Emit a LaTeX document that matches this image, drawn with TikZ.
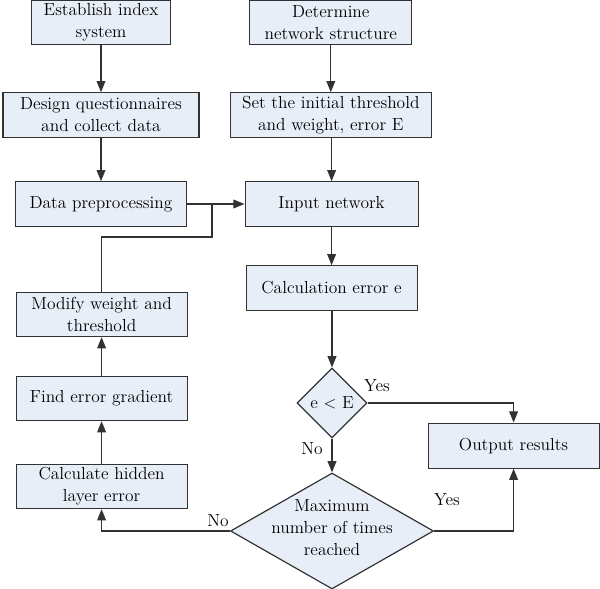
\documentclass[tikz,border=0pt]{standalone}
\usepackage{tikz}
\usetikzlibrary{arrows.meta,shapes.geometric}
\definecolor{boxfill}{RGB}{232,238,248}
\definecolor{boxline}{RGB}{50,50,50}

\begin{document}
\begin{tikzpicture}
      [font = \fontsize{12.4}{15.6}\selectfont,
      line width = 0.85pt,
      flow/.style = {-{Triangle[length = 2.8mm, width = 2.2mm]}, draw = boxline},
      link/.style = {draw = boxline},
      box/.style = {
         draw = boxline,
         fill = boxfill,
         align = center,
         inner sep = 0pt,
         minimum height = 1.11cm
      },
      dec/.style = {
         draw = boxline,
         fill = boxfill,
         diamond,
         inner sep = 0pt
      }]

      \useasboundingbox (0, 0) rectangle (15, -14.725);

      % left column
      \node[box, minimum width = 3.475cm] (est) at (2.525, -0.56) {Establish index\\system};
      \node[box, minimum width = 4.9cm] (des) at (2.525, -2.875) {Design questionnaires\\and collect data};
      \node[box, minimum width = 4.275cm] (pre) at (2.525, -5.1) {Data preprocessing};
      \node[box, minimum width = 4.275cm] (mod) at (2.54, -7.86) {Modify weight and\\threshold};
      \node[box, minimum width = 4.275cm] (grad) at (2.54, -9.96) {Find error gradient};
      \node[box, minimum width = 4.275cm] (hid) at (2.54, -12.16) {Calculate hidden\\layer error};

      % right column
      \node[box, minimum width = 4.05cm] (det) at (8.27, -0.56) {Determine\\network structure};
      \node[box, minimum width = 5.025cm] (set) at (8.27, -2.875) {Set the initial threshold\\and weight, error E};
      \node[box, minimum width = 4.325cm] (inp) at (8.29, -5.1) {Input network};
      \node[box, minimum width = 4.275cm] (calc) at (8.29, -7.2) {Calculation error e};
      \node[dec, minimum width = 1.75cm, minimum height = 1.75cm] (small) at (8.3, -10.075) {e $<$ E};
      \node[dec, minimum width = 5.075cm, minimum height = 2.9cm] (big) at (8.3, -13.275) {};
      \node[align = center] (bigtext) at (8.3, -13.2) {Maximum\\number of times\\reached};
      \node[box, minimum width = 4.275cm, minimum height = 1.125cm] (out) at (12.84, -11.14) {Output results};

      % branch labels
      \node (yesa) at (9.425, -9.65) {Yes};
      \node (noa) at (7.8, -11.225) {No};
      \node (yesb) at (11.175, -12.5) {Yes};
      \node (nob) at (5.45, -13.025) {No};

      \coordinate (fb) at (5.3, -5.925);

      \draw[flow] (est) -- (des);
      \draw[flow] (des) -- (pre);
      \draw[flow] (det) -- (set);
      \draw[flow] (set.south -| inp) -- (inp);
      \draw[flow] (pre) -- (inp);
      \draw[link] (fb |- pre.east) -- (fb) -| (mod.north);
      \draw[flow] (inp) -- (calc);
      \draw[flow] (calc.south -| small) -- (small);
      \draw[flow] (small.east) -| (out.north);
      \draw[flow] (small) -- (big);
      \draw[flow] (big.east) -| (out.south);
      \draw[flow] (big.west) -| (hid.south);
      \draw[flow] (hid) -- (grad);
      \draw[flow] (grad) -- (mod);

   \end{tikzpicture}
\end{document}
